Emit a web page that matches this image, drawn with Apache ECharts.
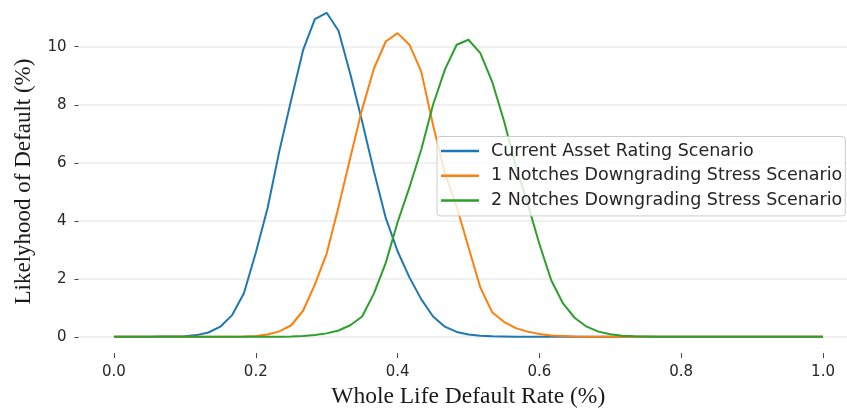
<!DOCTYPE html>
<html>
<head>
<meta charset="utf-8">
<script src="https://cdn.jsdelivr.net/npm/echarts@6/dist/echarts.min.js"></script>
<style>
html,body{margin:0;padding:0;background:#fff;}
#chart{width:847px;height:414px;}
</style>
</head>
<body>
<div id="chart"></div>
<script>
// Default rate grid (x, %)
const xValues = [0, 0.0167, 0.0333, 0.05, 0.0667, 0.0833, 0.1, 0.1167, 0.1333, 0.15,
  0.1667, 0.1833, 0.2, 0.2167, 0.2333, 0.25, 0.2667, 0.2833, 0.3, 0.3167,
  0.3333, 0.35, 0.3667, 0.3833, 0.4, 0.4167, 0.4333, 0.45, 0.4667, 0.4833,
  0.5, 0.5167, 0.5333, 0.55, 0.5667, 0.5833, 0.6, 0.6167, 0.6333, 0.65,
  0.6667, 0.6833, 0.7, 0.7167, 0.7333, 0.75, 0.7667, 0.7833, 0.8, 0.8167,
  0.8333, 0.85, 0.8667, 0.8833, 0.9, 0.9167, 0.9333, 0.95, 0.9667, 0.9833, 1];

const seriesNames = ['Current Asset Rating Scenario', '1 Notches Downgrading Stress Scenario', '2 Notches Downgrading Stress Scenario'];

const currentRating = [0, 0, 0, 0, 0.01, 0.01, 0.02, 0.06, 0.15, 0.35,
  0.75, 1.5, 2.9, 4.44, 6.41, 8.17, 9.88, 10.95, 11.17, 10.55,
  9.06, 7.42, 5.7, 4.1, 2.95, 2.05, 1.3, 0.7, 0.35, 0.17,
  0.08, 0.04, 0.02, 0.01, 0, 0, 0, 0, 0, 0,
  0, 0, 0, 0, 0, 0, 0, 0, 0, 0,
  0, 0, 0, 0, 0, 0, 0, 0, 0, 0, 0];

const oneNotch = [0, 0, 0, 0, 0, 0, 0, 0, 0, 0,
  0, 0.01, 0.03, 0.08, 0.19, 0.4, 0.9, 1.8, 2.87, 4.48,
  6.17, 7.85, 9.25, 10.18, 10.47, 10.07, 9.15, 7.3, 5.65, 4.49,
  3.09, 1.7, 0.85, 0.52, 0.3, 0.18, 0.1, 0.05, 0.03, 0.01,
  0, 0, 0, 0, 0, 0, 0, 0, 0, 0,
  0, 0, 0, 0, 0, 0, 0, 0, 0, 0, 0];

const twoNotches = [0, 0, 0, 0, 0, 0, 0, 0, 0, 0,
  0, 0, 0, 0, 0, 0.01, 0.03, 0.06, 0.12, 0.22,
  0.4, 0.7, 1.5, 2.55, 3.95, 5.15, 6.45, 8.0, 9.21, 10.07,
  10.24, 9.78, 8.8, 7.45, 5.9, 4.6, 3.2, 1.95, 1.15, 0.65,
  0.35, 0.18, 0.09, 0.04, 0.02, 0.01, 0, 0, 0, 0,
  0, 0, 0, 0, 0, 0, 0, 0, 0, 0, 0];

const xTicks = [0, 0.2, 0.4, 0.6, 0.8, 1.0];
const yTicks = [0, 2, 4, 6, 8, 10];
const colors = ['#1f77b4', '#ff7f0e', '#2ca02c'];

function pairs(ys) { return xValues.map((x, i) => [x, ys[i]]); }

const chart = echarts.init(document.getElementById('chart'), null, {renderer: 'canvas'});
const tickFont = {fontFamily: 'DejaVu Sans', fontSize: 15, color: '#262626'};
chart.setOption({
  animation: false,
  backgroundColor: '#ffffff',
  color: colors,
  grid: {left: 78.5, top: 0, width: 768.5, height: 355.4, containLabel: false},
  xAxis: {
    type: 'value', min: -0.05, max: 1.0338,
    name: 'Whole Life Default Rate (%)', nameLocation: 'middle', nameGap: 31,
    nameTextStyle: {fontFamily: 'Liberation Serif', fontSize: 23.5, color: '#1a1a1a', padding: [0, 0, 0, 11]},
    axisLine: {show: false, onZero: false},
    axisTick: {show: true, customValues: xTicks, length: 5, lineStyle: {color: '#444', width: 1}},
    axisLabel: Object.assign({customValues: xTicks, margin: 12, formatter: v => v.toFixed(1)}, tickFont),
    splitLine: {show: false}
  },
  yAxis: {
    type: 'value', min: -0.56, max: 11.611,
    name: 'Likelyhood of Default (%)', nameLocation: 'middle', nameGap: 43,
    nameTextStyle: {fontFamily: 'Liberation Serif', fontSize: 23, color: '#1a1a1a', padding: [0, 10, 0, 0]},
    axisLine: {show: false, onZero: false},
    axisTick: {show: true, customValues: yTicks, length: 4, lineStyle: {color: '#444', width: 1}},
    axisLabel: Object.assign({customValues: yTicks, margin: 12, formatter: v => String(v)}, tickFont),
    splitLine: {show: true, lineStyle: {color: '#ebebeb', width: 1.5}}
  },
  legend: {
    orient: 'vertical', left: 437, top: 136.5,
    padding: [5, 3, 6, 4], itemGap: 5.7,
    icon: 'rect', itemWidth: 38, itemHeight: 2.5,
    backgroundColor: 'rgba(255,255,255,0.8)', borderColor: '#cccccc', borderWidth: 1, borderRadius: 3,
    textStyle: {fontFamily: 'DejaVu Sans', fontSize: 17.5, color: '#262626', lineHeight: 19, padding: [0, 0, 0, 7]},
    data: seriesNames
  },
  series: [
    {name: seriesNames[0], type: 'line', data: pairs(currentRating), showSymbol: false, symbol: 'none', clip: false, lineStyle: {width: 2}},
    {name: seriesNames[1], type: 'line', data: pairs(oneNotch), showSymbol: false, symbol: 'none', clip: false, lineStyle: {width: 2}},
    {name: seriesNames[2], type: 'line', data: pairs(twoNotches), showSymbol: false, symbol: 'none', clip: false, lineStyle: {width: 2}}
  ]
});
</script>
</body>
</html>
